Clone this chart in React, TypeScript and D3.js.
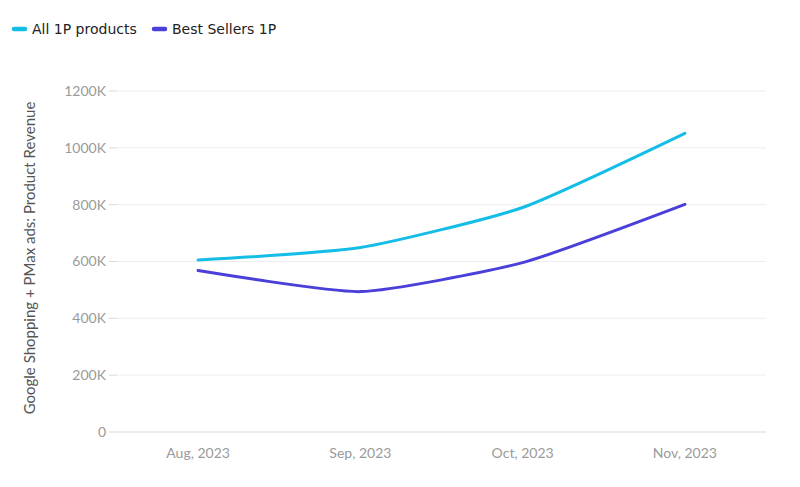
import React from "react";
import * as d3 from "d3";

const categories = ["Aug, 2023", "Sep, 2023", "Oct, 2023", "Nov, 2023"];
const allProducts = [605, 649, 790, 1051];
const bestSellers = [568, 494, 596, 801];
const yTicks = [0, 200, 400, 600, 800, 1000, 1200];
const seriesNames = ["All 1P products", "Best Sellers 1P"];
const seriesColors = ["#14bde6", "#4a3fd9"];

const W = 800;
const H = 487;
const margin = { left: 117, right: 34, top: 91, bottom: 55 };

export default function App() {
  const x = d3
    .scaleBand<string>()
    .domain(categories)
    .range([margin.left, W - margin.right])
    .padding(0);
  const y = d3.scaleLinear().domain([0, 1200]).range([H - margin.bottom, margin.top]);
  const line = d3
    .line<number>()
    .x((_, i) => (x(categories[i]) as number) + x.bandwidth() / 2)
    .y((d) => y(d))
    .curve(d3.curveCardinal.tension(0.45));
  const series = [allProducts, bestSellers];
  const font = "Lato, 'Open Sans', sans-serif";

  return (
    <svg
      width={W}
      height={H}
      style={{ position: "absolute", left: 0, top: 0, background: "#fff" }}
      fontFamily={font}
    >
      {/* legend */}
      <g>
        {seriesNames.map((n, i) => {
          const lx = i === 0 ? 12 : 152;
          return (
            <g key={n}>
              <line
                x1={lx + 2}
                x2={lx + 13}
                y1={29}
                y2={29}
                stroke={seriesColors[i]}
                strokeWidth={4.5}
                strokeLinecap="round"
              />
              <text
                x={lx + 20}
                y={34}
                fontSize={14}
                fill="#222"
                fontFamily="'DejaVu Sans', Verdana, sans-serif"
              >
                {n}
              </text>
            </g>
          );
        })}
      </g>
      {/* grid */}
      {yTicks.map((t) => (
        <g key={t}>
          <line
            x1={margin.left}
            x2={W - margin.right}
            y1={y(t)}
            y2={y(t)}
            stroke={t === 0 ? "#d9d9d9" : "#eeeeee"}
            strokeWidth={1}
          />
          <line x1={109} x2={117} y1={y(t)} y2={y(t)} stroke="#d9d9d9" />
          <text
            x={106}
            y={y(t)}
            dy="0.35em"
            textAnchor="end"
            fontSize={14}
            fill="#9a9a9a"
          >
            {t === 0 ? "0" : `${t}K`}
          </text>
        </g>
      ))}
      {/* x labels */}
      {categories.map((c) => (
        <text
          key={c}
          x={(x(c) as number) + x.bandwidth() / 2}
          y={458}
          textAnchor="middle"
          fontSize={14}
          fill="#9a9a9a"
        >
          {c}
        </text>
      ))}
      {/* y title */}
      <text
        transform={`translate(35, 258) rotate(-90)`}
        textAnchor="middle"
        fontSize={15}
        fill="#555"
      >
        Google Shopping + PMax ads: Product Revenue
      </text>
      {/* lines */}
      {series.map((s, i) => (
        <path
          key={i}
          d={line(s) as string}
          fill="none"
          stroke={seriesColors[i]}
          strokeWidth={3}
          strokeLinecap="round"
        />
      ))}
    </svg>
  );
}
